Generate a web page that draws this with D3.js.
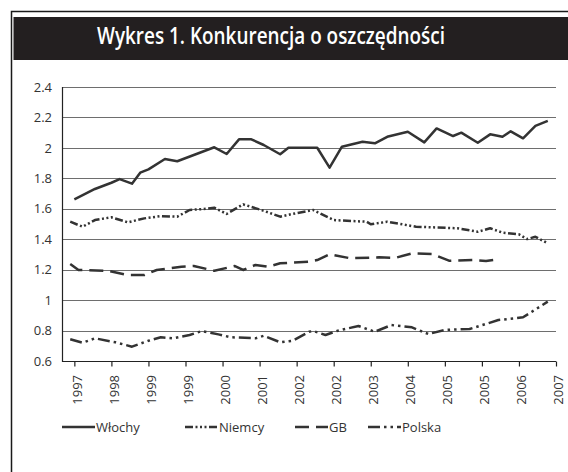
<!DOCTYPE html>
<html>
<head>
<meta charset="utf-8">
<script src="https://cdn.jsdelivr.net/npm/d3@7"></script>
<style>
    body { margin: 0; background: white; }
    text { font-family: 'Open Sans', 'DejaVu Sans', sans-serif; }
</style>
</head>
<body>
<script>
// quarterly-ish series, x = month index counted from mid-1997
let title = 'Wykres 1. Konkurencja o oszczędności'
let tick_months = [3, 12, 21, 30, 39, 48, 57, 66, 75, 84, 93, 102, 111, 120]
let tick_labels = ['1997', '1998', '1999', '1999', '2000', '2001', '2002', '2002', '2003', '2004', '2005', '2005', '2006', '2007']
let y_ticks = [0.6, 0.8, 1, 1.2, 1.4, 1.6, 1.8, 2, 2.2, 2.4]
let series_names = ['Włochy', 'Niemcy', 'GB', 'Polska']

let wlochy = [[3, 1.662], [8, 1.730], [12, 1.771], [14, 1.795], [17, 1.765], [19, 1.837], [21, 1.859],
    [25, 1.927], [28, 1.912], [37, 2.004], [40, 1.960], [43, 2.056], [46, 2.056], [49, 2.019],
    [53, 1.958], [55, 2.001], [62, 2.001], [65, 1.870], [68, 2.008], [73, 2.040], [76, 2.030],
    [79, 2.073], [84, 2.106], [88, 2.036], [91, 2.128], [95, 2.078], [97, 2.100], [101, 2.034],
    [104, 2.089], [107, 2.073], [109, 2.109], [112, 2.063], [115, 2.145], [118, 2.178]]
let niemcy = [[2, 1.515], [5, 1.482], [8, 1.526], [12, 1.544], [16, 1.511], [20, 1.537], [24, 1.552],
    [28, 1.548], [31, 1.592], [34, 1.598], [37, 1.607], [40, 1.566], [44, 1.629], [49, 1.587],
    [53, 1.548], [56, 1.566], [61, 1.592], [66, 1.526], [74, 1.515], [75, 1.498], [79, 1.515],
    [86, 1.482], [96, 1.472], [101, 1.449], [104, 1.472], [107, 1.443], [111, 1.432], [113, 1.401],
    [115, 1.416], [118, 1.373]]
let gb = [[2, 1.237], [4, 1.198], [11, 1.193], [16, 1.165], [20, 1.165], [23, 1.198], [29, 1.219],
    [32, 1.224], [37, 1.193], [42, 1.224], [44, 1.198], [47, 1.231], [50, 1.219], [53, 1.242],
    [60, 1.252], [62, 1.263], [65, 1.301], [70, 1.275], [77, 1.281], [81, 1.278], [85, 1.307],
    [90, 1.303], [94, 1.259], [100, 1.263], [103, 1.257], [106, 1.268]]
let polska = [[2, 0.743], [5, 0.720], [8, 0.749], [13, 0.723], [17, 0.694], [21, 0.733], [24, 0.756],
    [27, 0.749], [31, 0.771], [34, 0.797], [38, 0.775], [41, 0.756], [47, 0.749], [49, 0.766],
    [53, 0.723], [56, 0.733], [60, 0.792], [61, 0.797], [64, 0.771], [67, 0.799], [72, 0.830],
    [76, 0.792], [80, 0.836], [85, 0.821], [89, 0.777], [93, 0.804], [99, 0.810], [106, 0.869],
    [110, 0.880], [112, 0.887], [118, 0.99]]

let width = 568
let height = 472
let plot = {left: 62, right: 556, top: 87, bottom: 361}
let line_color = '#333'
let grid_color = '#6e6e6e'
let line_width = 2.5
let dashes = ['none', '8,2.5,2,2.5,2,2.5,2,2.5', '14,7', '12,4,2.5,4,2.5,4']
let legend_x = [62, 185, 295, 368]
let legend_y = 427

let x = d3.scaleLinear().domain([0, 120]).range([plot.left, plot.right])
let y = d3.scaleLinear().domain([0.6, 2.4]).range([plot.bottom, plot.top])

function makeFrame(svg) {
    svg.append('rect')
        .attr('x', 11.5)
        .attr('y', 11.5)
        .attr('width', width + 20)
        .attr('height', height + 20)
        .attr('fill', 'none')
        .attr('stroke', '#1a1a1a')
        .attr('stroke-width', 1.5)
    svg.append('rect')
        .attr('x', 13.5)
        .attr('y', 17)
        .attr('width', width)
        .attr('height', 43)
        .attr('fill', '#231f20')
    svg.append('text')
        .attr('x', 271)
        .attr('y', 44)
        .attr('text-anchor', 'middle')
        .attr('fill', 'white')
        .attr('font-size', 23)
        .attr('font-weight', 600)
        .attr('textLength', 348)
        .attr('lengthAdjust', 'spacingAndGlyphs')
        .text(title)
}

function makeAxes(svg) {
    svg.selectAll('.grid')
        .data(y_ticks)
        .enter()
        .append('line')
        .attr('x1', plot.left)
        .attr('x2', plot.right)
        .attr('y1', d => Math.round(y(d)) + .5)
        .attr('y2', d => Math.round(y(d)) + .5)
        .attr('stroke', grid_color)
        .attr('stroke-width', 1.2)
    svg.selectAll('.ylab')
        .data(y_ticks)
        .enter()
        .append('text')
        .attr('x', 52)
        .attr('y', d => y(d))
        .attr('dy', '0.36em')
        .attr('text-anchor', 'end')
        .attr('font-size', 13)
        .attr('fill', '#333')
        .text(d => d)
    let x_axis = d3.axisBottom(x)
        .tickValues(tick_months)
        .tickSize(5)
        .tickFormat('')
    let g = svg.append('g')
        .attr('transform', `translate(0,${Math.round(plot.bottom) + .5})`)
        .call(x_axis)
    g.selectAll('path, line').attr('stroke', '#222').attr('stroke-width', 1.2)
    g.select('.domain').attr('d', `M${plot.left},0H${plot.right}`)
    svg.append('line')
        .attr('x1', plot.left + .5)
        .attr('x2', plot.left + .5)
        .attr('y1', plot.top)
        .attr('y2', plot.bottom + 1)
        .attr('stroke', '#222')
        .attr('stroke-width', 1.2)
    svg.selectAll('.xlab')
        .data(tick_months)
        .enter()
        .append('text')
        .attr('transform', d => `translate(${x(d) + 2.5},375) rotate(-90)`)
        .attr('dy', '0.36em')
        .attr('text-anchor', 'end')
        .attr('font-size', 13)
        .attr('fill', '#333')
        .text((d, i) => tick_labels[i])
}

function makeLines(svg) {
    let all = [wlochy, niemcy, gb, polska]
    let line = d3.line()
        .x(d => x(d[0]))
        .y(d => y(d[1]))
    svg.selectAll('.series')
        .data(all)
        .enter()
        .append('path')
        .attr('d', line)
        .attr('fill', 'none')
        .attr('stroke', line_color)
        .attr('stroke-width', line_width)
        .attr('stroke-linejoin', 'round')
        .attr('stroke-dasharray', (d, i) => dashes[i])
}

function makeLegend(svg) {
    let items = svg.selectAll('.legend')
        .data(series_names)
        .enter()
        .append('g')
        .attr('transform', (d, i) => `translate(${legend_x[i]},${legend_y})`)
    items.append('line')
        .attr('x1', 0)
        .attr('x2', 33)
        .attr('y1', 0)
        .attr('y2', 0)
        .attr('stroke', line_color)
        .attr('stroke-width', line_width)
        .attr('stroke-dasharray', (d, i) => dashes[i])
    items.append('text')
        .attr('x', 34)
        .attr('y', 5)
        .attr('font-size', 13)
        .attr('fill', '#333')
        .text(d => d)
}

let svg = d3.select('body')
    .append('svg')
    .attr('width', width)
    .attr('height', height)
makeFrame(svg)
makeAxes(svg)
makeLines(svg)
makeLegend(svg)
</script>
</body>
</html>
